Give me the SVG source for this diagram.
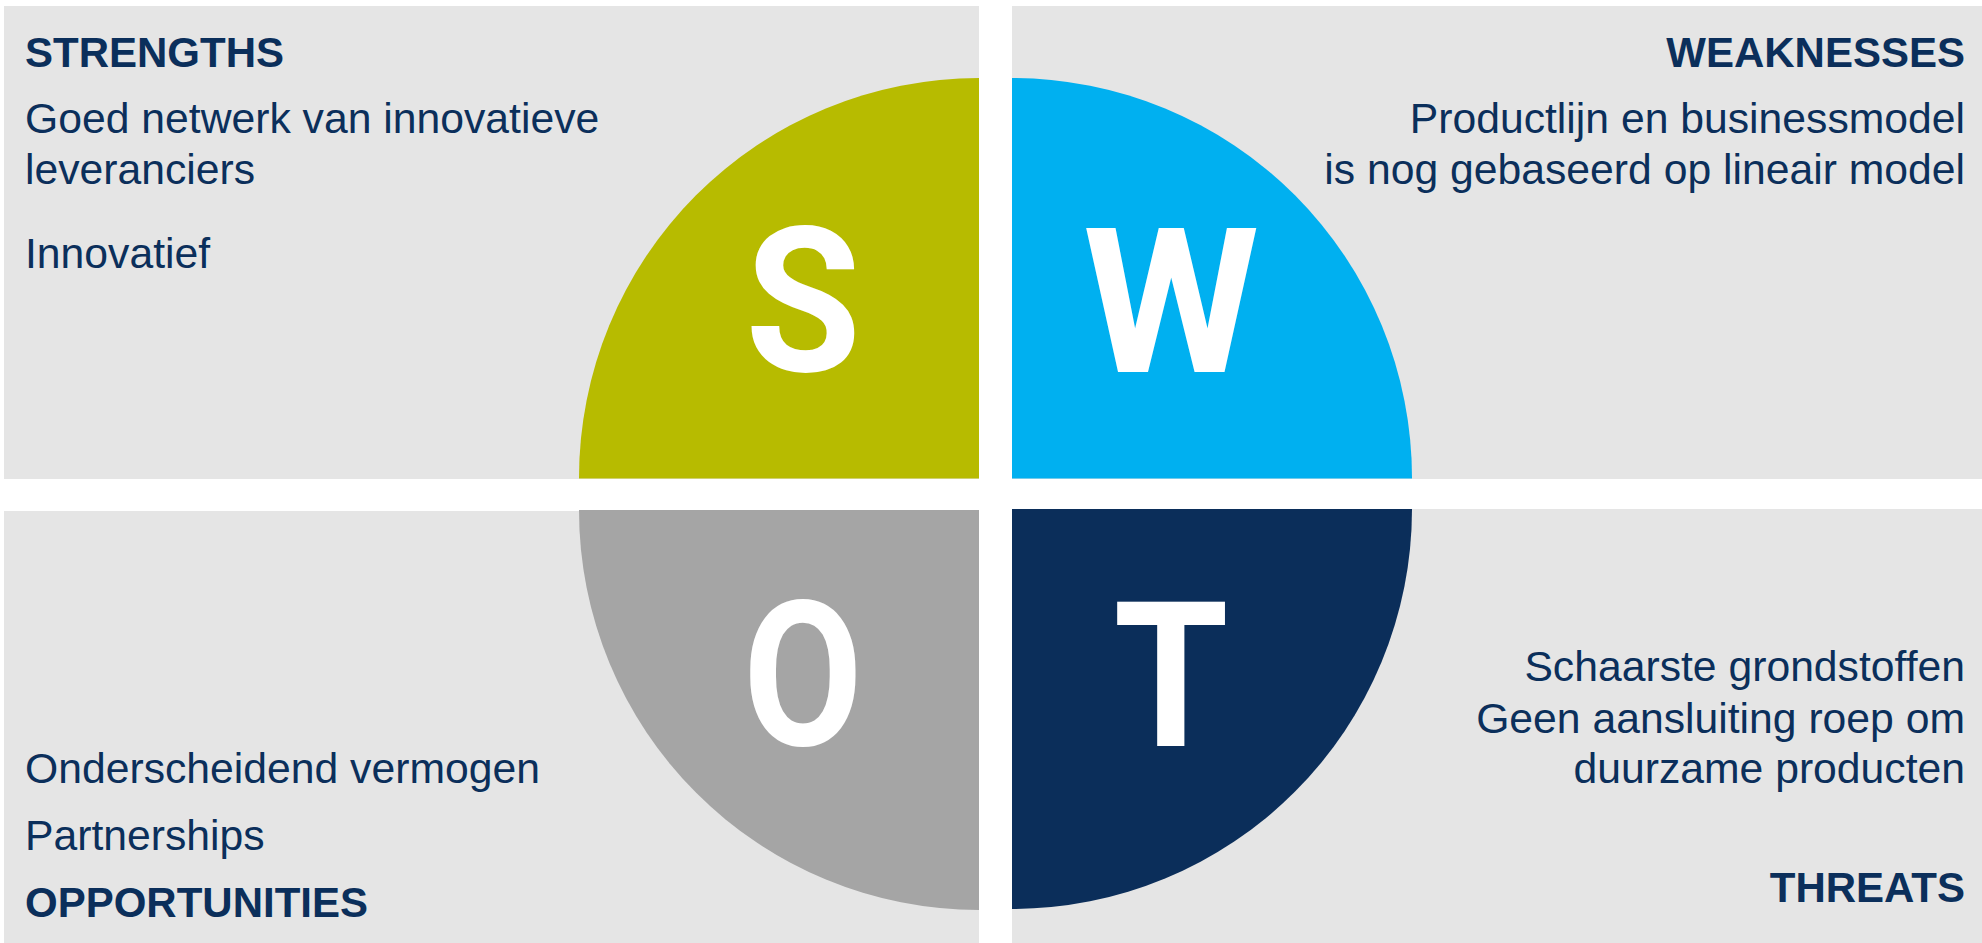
<svg xmlns="http://www.w3.org/2000/svg" width="1982" height="943" viewBox="0 0 1982 943">
  <style>
    .panel { fill: #e5e5e5; }
    .head { font-family: "Liberation Sans", Arial, sans-serif; font-weight: 700; font-size: 42px; fill: #0b2f5b; }
    .body { font-family: "Liberation Sans", Arial, sans-serif; font-size: 42.7px; fill: #0b2f5b; }
    .big { font-family: Roboto, "Liberation Sans", sans-serif; font-weight: 700; font-size: 202px; fill: #ffffff; text-anchor: middle; }
    .r { text-anchor: end; }
  </style>
  <rect width="1982" height="943" fill="#ffffff"/>
  <g id="strengths">
    <rect class="panel" x="4" y="6" width="975" height="473"/>
    <path d="M979,478.5 L579,478.5 A400,400 0 0 1 979,78 Z" fill="#b7bb00"/>
    <text class="big" transform="translate(803,371) scale(0.93,1)">S</text>
    <text class="head" x="25" y="67">STRENGTHS</text>
    <text class="body" x="25" y="133">Goed netwerk van innovatieve</text>
    <text class="body" x="25" y="184">leveranciers</text>
    <text class="body" x="25" y="268">Innovatief</text>
  </g>
  <g id="weaknesses">
    <rect class="panel" x="1012" y="6" width="970" height="473"/>
    <path d="M1012,478.5 L1012,78 A400,400 0 0 1 1412,478.5 Z" fill="#00b0f0"/>
    <text class="big" transform="translate(1171,372)">W</text>
    <text class="head r" x="1965" y="67">WEAKNESSES</text>
    <text class="body r" x="1965" y="133">Productlijn en businessmodel</text>
    <text class="body r" x="1965" y="184">is nog gebaseerd op lineair model</text>
  </g>
  <g id="opportunities">
    <rect class="panel" x="4" y="511" width="975" height="432"/>
    <path d="M979,510 L579,510 A400,400 0 0 0 979,910 Z" fill="#a5a5a5"/>
    <text class="big" transform="translate(803,745) scale(0.86,1)">O</text>
    <text class="body" x="25" y="783">Onderscheidend vermogen</text>
    <text class="body" x="25" y="850">Partnerships</text>
    <text class="head" x="25" y="917">OPPORTUNITIES</text>
  </g>
  <g id="threats">
    <rect class="panel" x="1012" y="509" width="970" height="434"/>
    <path d="M1012,509 L1412,509 A400,400 0 0 1 1012,909 Z" fill="#0b2e5a"/>
    <text class="big" transform="translate(1171,746) scale(0.92,1)">T</text>
    <text class="body r" x="1965" y="681">Schaarste grondstoffen</text>
    <text class="body r" x="1965" y="733">Geen aansluiting roep om</text>
    <text class="body r" x="1965" y="783">duurzame producten</text>
    <text class="head r" x="1965" y="902">THREATS</text>
  </g>
  <g id="connectors"></g>
</svg>
